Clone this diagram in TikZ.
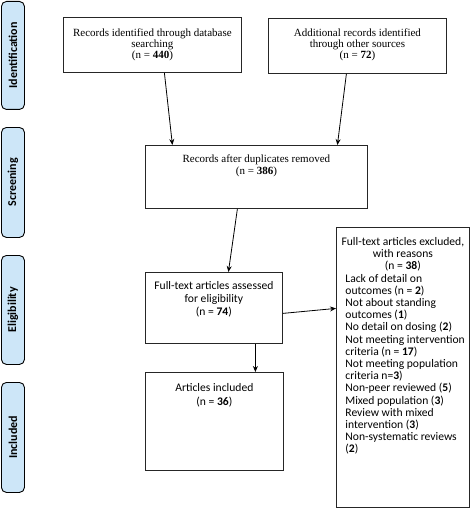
\documentclass[tikz,border=0pt]{standalone}
\usepackage{fontspec}
\setmainfont{Liberation Serif}
\newfontfamily\carl{Carlito}
\usetikzlibrary{arrows.meta}
\definecolor{sidefill}{HTML}{CDE6F8}
\tikzset{
  phase/.style={draw=black, line width=0.9pt, fill=sidefill, rounded corners=5pt,
    minimum width=23pt, inner sep=0pt},
  phasetext/.style={rotate=90, font=\carl\bfseries\fontsize{12}{13}\selectfont},
  box/.style={draw=black!85, line width=0.8pt, inner sep=0pt, anchor=north west},
  arr/.style={draw=black, line width=0.8pt, -{Stealth[length=6pt,width=5pt]}},
}
\newcommand{\tbox}[4]{\parbox[t][#2][t]{#1}{\centering\vspace*{#3}#4\par}}
\newcommand{\exline}[1]{\mbox{#1}\\}
\begin{document}
\begin{tikzpicture}[x=1pt,y=-1pt]
\useasboundingbox (0,0) rectangle (473,508);
% phase labels
\node[phase, minimum height=108pt, anchor=north west] (p1) at (1,1) {};
\node[phasetext] (t1) at (p1.center) {Identification};
\node[phase, minimum height=110pt, anchor=north west] (p2) at (1,127) {};
\node[phasetext] (t2) at (p2.center) {Screening};
\node[phase, minimum height=109pt, anchor=north west] (p3) at (1,255) {};
\node[phasetext] (t3) at (p3.center) {Eligibility};
\node[phase, minimum height=110pt, anchor=north west] (p4) at (1,382) {};
\node[phasetext] (t4) at (p4.center) {Included};
% boxes
\node[box, font=\fontsize{11}{11}\selectfont] (b1) at (63,17)
  {\tbox{178pt}{55pt}{11pt}{Records identified through database\\ searching\\ (n = \textbf{440})}};
\node[box, font=\fontsize{11}{11}\selectfont] (b2) at (268,18)
  {\tbox{178pt}{55pt}{10.5pt}{Additional records identified\\ through other sources\\ (n = \textbf{72})}};
\node[box, font=\fontsize{11}{12}\selectfont] (b3) at (145,145)
  {\tbox{222pt}{63pt}{9pt}{Records after duplicates removed\\ (n = \textbf{386})}};
\node[box, font=\carl\fontsize{11.6}{13}\selectfont] (b4) at (145,272)
  {\tbox{137pt}{71pt}{9pt}{Full-text articles assessed\\ for eligibility\\ (n = \textbf{74})}};
\node[box, font=\carl\fontsize{11.6}{14}\selectfont] (b5) at (145,372)
  {\tbox{138pt}{98pt}{11pt}{Articles included\\ (n = \textbf{36})}};
\node[box, font=\carl\fontsize{11.6}{12.2}\selectfont] (b6) at (336,227)
  {\parbox[t][280pt][t]{133pt}{\vspace*{10pt}\centering
   \mbox{Full-text articles excluded,}\\ with reasons\\ (n = \textbf{38})\par
   \raggedright\leftskip=9pt
   \exline{Lack of detail on}
   \exline{outcomes (n = \textbf{2})}
   \exline{Not about standing}
   \exline{outcomes (\textbf{1})}
   \exline{No detail on dosing (\textbf{2})}
   \exline{Not meeting intervention}
   \exline{criteria (n = \textbf{17})}
   \exline{Not meeting population}
   \exline{criteria n=\textbf{3})}
   \exline{Non-peer reviewed (\textbf{5})}
   \exline{Mixed population (\textbf{3})}
   \exline{Review with mixed}
   \exline{intervention (\textbf{3})}
   \exline{Non-systematic reviews}
   \mbox{(\textbf{2})}\par}};
% arrows
\draw[arr] ([xshift=12pt]b1.south) -- ([xshift=-84pt]b3.north);
\draw[arr] ([xshift=-11pt]b2.south) -- ([xshift=81pt]b3.north);
\draw[arr] ([xshift=-19pt]b3.south) -- ([xshift=14.5pt]b4.north);
\draw[arr] ([yshift=-5.5pt]b4.east) -- ([yshift=59pt]b6.west);
\draw[arr] ([xshift=41.5pt]b4.south) -- ([xshift=41pt]b5.north);
\end{tikzpicture}
\end{document}
